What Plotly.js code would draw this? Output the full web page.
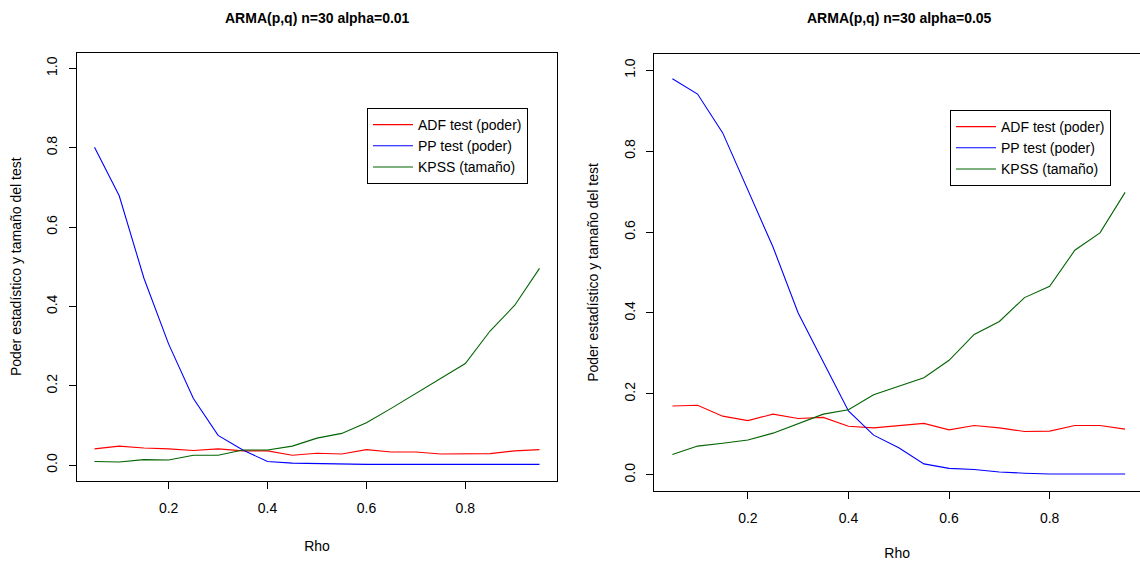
<!DOCTYPE html>
<html><head><meta charset="utf-8">
<script src="https://cdn.plot.ly/plotly-3.0.1.min.js"></script>
<style>html,body{margin:0;padding:0;background:#fff}#chart{width:1140px;height:561px}</style>
</head><body><div id="chart"></div>
<script>
const rho = [0.05,0.10,0.15,0.20,0.25,0.30,0.35,0.40,0.45,0.50,0.55,0.60,0.65,0.70,0.75,0.80,0.85,0.90,0.95];

const adf01  = [0.041,0.048,0.043,0.041,0.037,0.041,0.036,0.036,0.025,0.030,0.028,0.039,0.033,0.033,0.028,0.029,0.029,0.036,0.039];
const pp01   = [0.801,0.679,0.471,0.305,0.168,0.075,0.038,0.009,0.005,0.004,0.002,0.002,0.002,0.002,0.002,0.002,0.002,0.002,0.002];
const kpss01 = [0.009,0.008,0.014,0.013,0.025,0.025,0.038,0.038,0.048,0.068,0.080,0.107,0.143,0.181,0.218,0.256,0.338,0.403,0.496];

const adf05  = [0.170,0.172,0.145,0.134,0.150,0.139,0.142,0.120,0.116,0.122,0.127,0.111,0.122,0.116,0.107,0.108,0.122,0.122,0.113];
const pp05   = [0.979,0.941,0.845,0.703,0.563,0.400,0.278,0.158,0.098,0.067,0.027,0.016,0.013,0.007,0.004,0.002,0.002,0.002,0.002];
const kpss05 = [0.050,0.071,0.078,0.086,0.103,0.126,0.150,0.161,0.198,0.219,0.240,0.283,0.347,0.379,0.438,0.466,0.555,0.598,0.698];

const seriesNames  = ["ADF test (poder)", "PP test (poder)", "KPSS (tamaño)"];
const seriesColors = ["#FF0000", "#0000FF", "#006400"];
const panelTitles  = ["ARMA(p,q) n=30 alpha=0.01", "ARMA(p,q) n=30 alpha=0.05"];
const xTitle = "Rho";
const yTitle = "Poder estadístico y tamaño del test";
const xTickVals = [0.2, 0.4, 0.6, 0.8];
const yTickVals = [0, 0.2, 0.4, 0.6, 0.8, 1.0];

const FONT = "Liberation Sans, Arial, Helvetica, sans-serif";
const W = 1140, H = 561;

const panels = [
  {data: [adf01, pp01, kpss01], xa: 'x', ya: 'y', legend: 'legend'},
  {data: [adf05, pp05, kpss05], xa: 'x2', ya: 'y2', legend: 'legend2'}
];

const traces = [];
panels.forEach(p => {
  p.data.forEach((vals, i) => {
    traces.push({
      x: rho, y: vals, type: 'scatter', mode: 'lines',
      name: seriesNames[i], xaxis: p.xa, yaxis: p.ya, legend: p.legend,
      line: {color: seriesColors[i], width: 1.1}
    });
  });
});

function xaxis(domain, range, mirror) {
  return {
    domain: domain, range: range, tickmode: 'array', tickvals: xTickVals,
    ticktext: xTickVals.map(v => v.toFixed(1)),
    ticks: 'outside', ticklen: 7, tickcolor: '#000', tickwidth: 1,
    ticklabelstandoff: 7,
    showline: true, linecolor: '#000', linewidth: 1, mirror: mirror,
    showgrid: false, zeroline: false,
    tickfont: {family: FONT, size: 14, color: '#000'},
    title: {text: xTitle, font: {family: FONT, size: 14, color: '#000'}, standoff: 26}
  };
}
function yaxis(domain, anchor, mirror) {
  return {
    domain: domain, range: [-0.04, 1.04], anchor: anchor,
    tickmode: 'array', tickvals: yTickVals, ticktext: yTickVals.map(v => v.toFixed(1)),
    tickangle: -90,
    ticks: 'outside', ticklen: 7, tickcolor: '#000', tickwidth: 1,
    ticklabelstandoff: 6,
    showline: true, linecolor: '#000', linewidth: 1, mirror: mirror,
    showgrid: false, zeroline: false,
    tickfont: {family: FONT, size: 14, color: '#000'},
    title: {text: yTitle, font: {family: FONT, size: 14, color: '#000'}, standoff: 19}
  };
}

const legendStyle = (x, y) => ({
  x: x, y: y, xanchor: 'left', yanchor: 'top', xref: 'paper', yref: 'paper',
  bgcolor: '#fff', bordercolor: '#000', borderwidth: 1, itemwidth: 40,
  font: {family: FONT, size: 14, color: '#000'}
});

const layout = {
  width: W, height: H,
  margin: {l: 0, r: 0, t: 0, b: 0},
  paper_bgcolor: '#fff', plot_bgcolor: '#fff',
  font: {family: FONT, color: '#000'},
  showlegend: true,
  xaxis:  Object.assign(xaxis([76.7/W, 557.3/W], [0.014, 0.986], true), {anchor: 'y'}),
  yaxis:  yaxis([(H-481)/H, (H-52.5)/H], 'x', true),
  xaxis2: Object.assign(xaxis([654.3/W, 1], [0.014, 0.014 + (W-654.3)/503], true), {anchor: 'y2'}),
  yaxis2: yaxis([(H-491)/H, (H-54)/H], 'x2', false),
  legend:  legendStyle(367/W, 1 - 108/H),
  legend2: legendStyle(950/W, 1 - 110/H),
  annotations: [
    {text: panelTitles[0], xref: 'paper', yref: 'paper', x: 317/W, y: 1 - 18/H,
     xanchor: 'center', yanchor: 'middle', showarrow: false,
     font: {family: FONT, size: 14, weight: 'bold', color: '#000'}},
    {text: panelTitles[1], xref: 'paper', yref: 'paper', x: 899/W, y: 1 - 18/H,
     xanchor: 'center', yanchor: 'middle', showarrow: false,
     font: {family: FONT, size: 14, weight: 'bold', color: '#000'}}
  ]
};

Plotly.newPlot('chart', traces, layout, {staticPlot: true, displayModeBar: false});
</script>
</body></html>
